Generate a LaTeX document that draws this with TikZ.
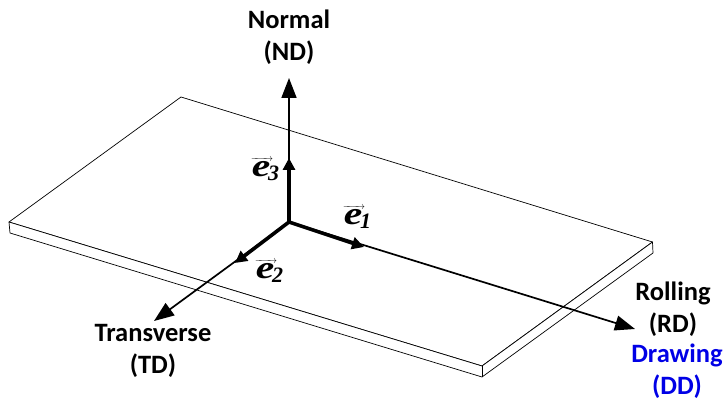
\documentclass[tikz,border=0pt]{standalone}
\usepackage{amsmath,amssymb}
\usepackage{graphicx}
\usepackage{fontspec}
\setmainfont{Carlito}
\newfontfamily\vecfont{Liberation Serif}
\usepackage{tikz}
\usetikzlibrary{
	positioning,
	arrows.meta
}
\definecolor{ddblue}{RGB}{0,0,230}
\newcommand{\basisvec}[1]{$\overrightarrow{\text{\kern1pt\scalebox{1.3}[1]{\vecfont\bfseries\itshape\fontsize{32}{32}\selectfont e}\kern3pt}}\hspace{-5pt}\raisebox{-4pt}{\vecfont\bfseries\itshape\fontsize{22}{22}\selectfont #1}$}

\begin{document}
\begin{tikzpicture}[
			x=1pt,y=-1pt,
			plate/.style={draw,fill=white,line width=0.7pt,line join=round},
			axis/.style={-{Triangle[length=20pt,width=15pt]},line width=1.7pt},
			basis/.style={-{Triangle[length=12pt,width=12pt]},line width=3.6pt},
			dirlabel/.style={font=\fontsize{26.5}{32.5}\selectfont\bfseries,align=center,inner sep=0pt},
			veclabel/.style={inner sep=0pt}
			]
			
			\useasboundingbox (0,0) rectangle (724,403);
			
			% plate corners
			\coordinate (back) at (181,97);
			\coordinate (right) at (652.5,242);
			\coordinate (front) at (482,366);
			\coordinate (left) at (9,222);
			\coordinate (rightlow) at (653,253);
			\coordinate (frontlow) at (482,377);
			\coordinate (leftlow) at (10,233);
			
			\draw[plate] (back)--(right)--(front)--(left)--cycle;
			\draw[plate] (left)--(leftlow)--(frontlow)--(rightlow)--(right)--(front)--cycle;
			\draw[plate] (front)--(frontlow);
			
			% axes
			\coordinate (origin) at (289,222);
			\coordinate (ndtip) at (289,78);
			\coordinate (rdtip) at (635,329);
			\coordinate (tdtip) at (154,321);
			\coordinate (e1tip) at (364,247);
			\coordinate (e2tip) at (235,263);
			\coordinate (e3tip) at (289,158);
			
			\draw[axis] (origin)--(ndtip);
			\draw[axis] (origin)--(rdtip);
			\draw[axis] (origin)--(tdtip);
			\draw[basis] (origin)--(e1tip);
			\draw[basis] (origin)--(e2tip);
			\draw[basis] (origin)--(e3tip);
			
			\node[dirlabel] (nd) at (289,37) {Normal\\(ND)};
			\node[dirlabel] (td) at (153,351) {Transverse\\(TD)};
			\node[dirlabel] (rd) at (673,309) {Rolling\\(RD)};
			\node[dirlabel,text=ddblue] (dd) at (677,371) {Drawing\\(DD)};
			
			\node[veclabel] (e1) at (357,217) {\basisvec{1}};
			\node[veclabel] (e2) at (269,271) {\basisvec{2}};
			\node[veclabel] (e3) at (265,169) {\basisvec{3}};
			
		\end{tikzpicture}
\end{document}
